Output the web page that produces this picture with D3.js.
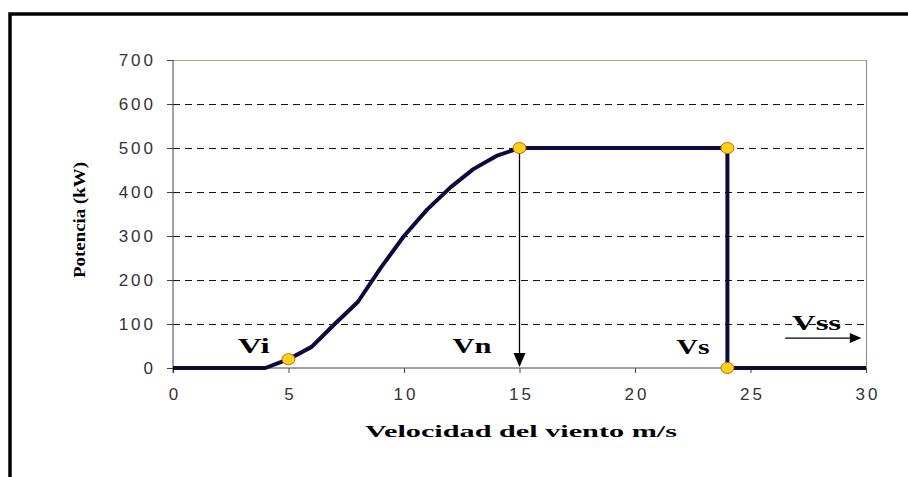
<!DOCTYPE html>
<html>
<head>
<meta charset="utf-8">
<script src="https://cdn.jsdelivr.net/npm/d3@7"></script>
<style>
    body { margin: 0; background: #fff; }
    svg { display: block; }
</style>
</head>
<body>
<div id="chart"></div>
<script>
// curva de potencia del aerogenerador
var speed = [0, 4, 5, 6, 7, 8, 9, 10, 11, 12, 13, 14, 15, 24, 24, 30];
var power = [0, 0, 20, 48, 100, 150, 228, 300, 360, 410, 452, 482, 500, 500, 0, 0];

// puntos marcados
var markSpeed = [5, 15, 24, 24];
var markPower = [20, 500, 500, 0];

var xTicks = [0, 5, 10, 15, 20, 25, 30];
var yTicks = [0, 100, 200, 300, 400, 500, 600, 700];

var labels = [
    { text: "Vi", x: 2.8, y: 34, w: 32 },
    { text: "Vn", x: 12.1, y: 34, w: 39 },
    { text: "Vs", x: 21.8, y: 32, w: 33 },
    { text: "Vss", x: 26.8, y: 86, w: 49 }
];

var width = 908, height = 477;

var svg = d3.select("#chart").append("svg")
    .attr("width", width)
    .attr("height", height);

// marco exterior
svg.append("rect")
    .attr("x", 10).attr("y", 14)
    .attr("width", 940).attr("height", 500)
    .attr("fill", "none")
    .attr("stroke", "#000")
    .attr("stroke-width", 3.5);

var x = d3.scaleLinear().domain([0, 30]).range([173, 866]);
var y = d3.scaleLinear().domain([0, 700]).range([368, 60]);

// grid
svg.append("g")
    .selectAll("line")
    .data(yTicks.filter(function (d) { return d > 0 && d < 700; }))
    .enter().append("line")
    .attr("x1", x(0)).attr("x2", x(30))
    .attr("y1", function (d) { return Math.round(y(d)) + 0.5; })
    .attr("y2", function (d) { return Math.round(y(d)) + 0.5; })
    .attr("stroke", "#111")
    .attr("stroke-dasharray", "7,5")
    .attr("shape-rendering", "crispEdges");

// borde del area
svg.append("line")
    .attr("x1", x(0)).attr("x2", x(30))
    .attr("y1", y(700) + 0.5).attr("y2", y(700) + 0.5)
    .attr("stroke", "#a8a890");
svg.append("line")
    .attr("x1", x(30) + 0.5).attr("x2", x(30) + 0.5)
    .attr("y1", y(700)).attr("y2", y(0))
    .attr("stroke", "#888");

// ejes
var yAxis = svg.append("g")
    .attr("transform", "translate(" + x(0) + ",0)")
    .call(d3.axisLeft(y).tickValues(yTicks).tickSize(6).tickPadding(14));
var xAxis = svg.append("g")
    .attr("transform", "translate(0," + y(0) + ")")
    .call(d3.axisBottom(x).tickValues(xTicks).tickSize(5).tickPadding(15));

[yAxis, xAxis].forEach(function (a) {
    a.select(".domain").attr("stroke", "#444");
    a.selectAll(".tick line").attr("stroke", "#444");
    a.selectAll(".tick text")
        .attr("fill", "#333")
        .style("font-family", "'Liberation Sans', Arial, sans-serif")
        .style("font-size", "17px")
        .style("letter-spacing", "3px");
});
yAxis.select(".domain").attr("d", "M0," + y(700) + "V" + (y(0) + 5));
yAxis.selectAll(".tick text").attr("dx", "3px");
xAxis.select(".domain").attr("d", "M" + x(0) + ",0H" + x(30));
xAxis.selectAll(".tick text").attr("dx", "1.5px");

// curva
var line = d3.line()
    .x(function (d, i) { return x(speed[i]); })
    .y(function (d, i) { return y(power[i]); });

svg.append("path")
    .datum(speed)
    .attr("d", line)
    .attr("fill", "none")
    .attr("stroke", "#0b0b3b")
    .attr("stroke-width", 4)
    .attr("stroke-linejoin", "round");

// flecha en Vn
svg.append("line")
    .attr("x1", x(15)).attr("x2", x(15))
    .attr("y1", y(500)).attr("y2", y(0) - 12)
    .attr("stroke", "#000")
    .attr("stroke-width", 1.3);
svg.append("path")
    .attr("d", "M" + (x(15) - 6) + "," + (y(0) - 15) + "L" + (x(15) + 6) + "," + (y(0) - 15) + "L" + x(15) + "," + (y(0) - 1) + "Z")
    .attr("fill", "#000");

// flecha Vss
svg.append("line")
    .attr("x1", x(26.5)).attr("x2", x(29.3))
    .attr("y1", y(68)).attr("y2", y(68))
    .attr("stroke", "#000")
    .attr("stroke-width", 1.3);
svg.append("path")
    .attr("d", "M" + x(29.3) + "," + (y(68) - 5) + "L" + x(29.8) + "," + y(68) + "L" + x(29.3) + "," + (y(68) + 5) + "Z")
    .attr("fill", "#000");

// marcadores
svg.append("g")
    .selectAll("ellipse")
    .data(markSpeed)
    .enter().append("ellipse")
    .attr("cx", function (d) { return x(d); })
    .attr("cy", function (d, i) { return y(markPower[i]); })
    .attr("rx", 6.5).attr("ry", 5.5)
    .attr("fill", "#ffd21a")
    .attr("stroke", "#c86a10")
    .attr("stroke-width", 1);

// etiquetas
svg.append("g")
    .selectAll("text")
    .data(labels)
    .enter().append("text")
    .attr("x", function (d) { return x(d.x); })
    .attr("y", function (d) { return y(d.y); })
    .attr("textLength", function (d) { return d.w; })
    .attr("lengthAdjust", "spacingAndGlyphs")
    .text(function (d) { return d.text; })
    .style("font-family", "'Liberation Serif', 'Times New Roman', serif")
    .style("font-weight", "bold")
    .style("font-size", "20px");

// titulos de ejes
svg.append("text")
    .attr("x", 365).attr("y", 437)
    .attr("textLength", 312)
    .attr("lengthAdjust", "spacingAndGlyphs")
    .text("Velocidad del viento m/s")
    .style("font-family", "'Liberation Serif', 'Times New Roman', serif")
    .style("font-weight", "bold")
    .style("font-size", "17px");

svg.append("text")
    .attr("transform", "translate(85,278) rotate(-90)")
    .attr("textLength", 116)
    .attr("lengthAdjust", "spacingAndGlyphs")
    .text("Potencia (kW)")
    .style("font-family", "'Liberation Serif', 'Times New Roman', serif")
    .style("font-weight", "bold")
    .style("font-size", "16px");
</script>
</body>
</html>
